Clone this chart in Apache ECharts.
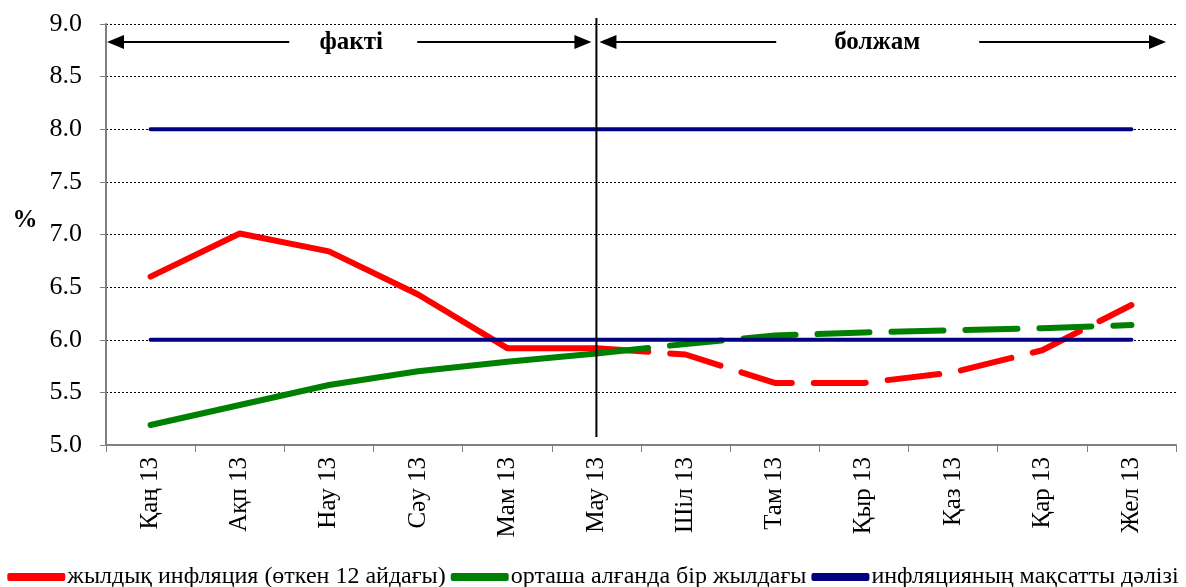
<!DOCTYPE html>
<html>
<head>
<meta charset="utf-8">
<script src="https://cdn.jsdelivr.net/npm/echarts@6/dist/echarts.min.js"></script>
<style>
html,body{margin:0;padding:0;background:#fff;}
#chart{width:1186px;height:587px;}
</style>
</head>
<body>
<div id="chart"></div>
<script>
const categories = ['Қаң 13','Ақп 13','Нау 13','Сәу 13','Мам 13','Мау 13','Шіл 13','Там 13','Қыр 13','Қаз 13','Қар 13','Жел 13'];
const inflationActual   = [6.60, 7.01, 6.84, 6.43, 5.92, 5.92, '-', '-', '-', '-', '-', '-'];
const inflationForecast = ['-', '-', '-', '-', '-', 5.92, 5.86, 5.59, 5.59, 5.69, 5.90, 6.33];
const averageActual     = [5.19, 5.38, 5.57, 5.70, 5.79, 5.87, '-', '-', '-', '-', '-', '-'];
const averageForecast   = ['-', '-', '-', '-', '-', 5.87, 5.96, 6.04, 6.07, 6.09, 6.11, 6.14];
const targetUpper = [8, 8, 8, 8, 8, 8, 8, 8, 8, 8, 8, 8];
const targetLower = [6, 6, 6, 6, 6, 6, 6, 6, 6, 6, 6, 6];
const seriesNames = ['жылдық инфляция (өткен 12 айдағы)', 'орташа алғанда бір жылдағы', 'инфляцияның мақсатты дәлізі'];
const periodLabels = ['факті', 'болжам'];
const unitLabel = '%';
const splitCategory = 'Мау 13';
const arrowLevel = 8.83;
const unitLevel = 7.13;

const RED = '#FF0000', GREEN = '#008000', BLUE = '#000080';
const FONT = '"Liberation Serif", "Times New Roman", serif';
const dash = [52, 22];

const chart = echarts.init(document.getElementById('chart'), null, {renderer: 'canvas'});

function lineSeries(name, data, color, width, dashed, z) {
  return {
    name: name, type: 'line', data: data, symbol: 'none', z: z,
    color: color,
    lineStyle: {color: color, width: width, type: dashed ? dash : 'solid', cap: 'round', join: 'round'},
    emphasis: {disabled: true}
  };
}

chart.setOption({
  animation: false,
  backgroundColor: '#fff',
  grid: {left: 106, right: 10, top: 24, bottom: 142, containLabel: false, outerBoundsMode: 'none'},
  legend: {
    bottom: -7, left: 'center',
    data: seriesNames,
    icon: 'roundRect', itemWidth: 58, itemHeight: 8, itemGap: 5,
    textStyle: {fontFamily: FONT, fontSize: 24, color: '#000', padding: [0,0,0,-3]}
  },
  xAxis: {
    type: 'category', data: categories, boundaryGap: true,
    axisLine: {lineStyle: {color: '#808080', width: 2}},
    axisTick: {show: true, length: 7, lineStyle: {color: '#808080', width: 1}},
    axisLabel: {rotate: 90, margin: 12, fontFamily: FONT, fontSize: 25, color: '#000', interval: 0},
    splitLine: {show: false}
  },
  yAxis: {
    type: 'value', min: 5, max: 9, interval: 0.5,
    axisLine: {show: true, lineStyle: {color: '#808080', width: 2}},
    axisTick: {show: true, length: 6, lineStyle: {color: '#808080'}},
    axisLabel: {formatter: v => v.toFixed(1), fontFamily: FONT, fontSize: 26, color: '#000', margin: 24},
    splitLine: {show: true, lineStyle: {color: '#000', width: 1, type: [2, 2]}}
  },
  series: [
    lineSeries(seriesNames[0], inflationActual, RED, 6, false, 3),
    lineSeries(seriesNames[0], inflationForecast, RED, 6, true, 3),
    lineSeries(seriesNames[1], averageActual, GREEN, 6, false, 3),
    lineSeries(seriesNames[1], averageForecast, GREEN, 6, true, 3),
    lineSeries(seriesNames[2], targetUpper, BLUE, 4, false, 4),
    lineSeries(seriesNames[2], targetLower, BLUE, 4, false, 4)
  ]
});

// Annotations positioned from the axes
const p0 = chart.convertToPixel({gridIndex: 0}, [categories[0], 9]);
const p1 = chart.convertToPixel({gridIndex: 0}, [categories[1], 5]);
const band = p1[0] - p0[0];
const leftEdge = p0[0] - band / 2;
const rightEdge = leftEdge + band * categories.length;
const xs = chart.convertToPixel({gridIndex: 0}, [splitCategory, 9])[0];
const yTop = p0[1], yBot = p1[1];
const ya = chart.convertToPixel({yAxisIndex: 0}, arrowLevel);
const yu = chart.convertToPixel({yAxisIndex: 0}, unitLevel);

function arrow(x1, x2, y) {
  const dir = x2 > x1 ? 1 : -1;
  const hl = 17, hw = 7;
  return [
    {type: 'line', shape: {x1: x1, y1: y, x2: x2 - dir * hl * 0.8, y2: y}, style: {stroke: '#000', lineWidth: 2}, z: 10},
    {type: 'polygon', shape: {points: [[x2, y], [x2 - dir * hl, y - hw], [x2 - dir * hl, y + hw]]}, style: {fill: '#000'}, z: 10}
  ];
}

const factCenter = (leftEdge + xs) / 2;
const forecastCenter = (xs + rightEdge) / 2 - 9;
const els = [
  {type: 'line', shape: {x1: xs, y1: yTop - 6, x2: xs, y2: yBot - 8}, style: {stroke: '#000', lineWidth: 2}, z: 10},
  ...arrow(factCenter - 62, leftEdge + 1, ya),
  ...arrow(factCenter + 66, xs - 5, ya),
  ...arrow(forecastCenter - 101, xs + 3, ya),
  ...arrow(forecastCenter + 102, rightEdge - 10, ya),
  {type: 'text', x: factCenter, y: ya + 1, style: {text: periodLabels[0], font: 'bold 25px ' + FONT, fill: '#000', align: 'center', verticalAlign: 'middle'}, z: 10},
  {type: 'text', x: forecastCenter, y: ya + 1, style: {text: periodLabels[1], font: 'bold 25px ' + FONT, fill: '#000', align: 'center', verticalAlign: 'middle'}, z: 10},
  {type: 'text', x: leftEdge - 81, y: yu, style: {text: unitLabel, font: 'bold 25px ' + FONT, fill: '#000', align: 'center', verticalAlign: 'middle'}, z: 10}
];
chart.setOption({graphic: {elements: els}});
</script>
</body>
</html>
